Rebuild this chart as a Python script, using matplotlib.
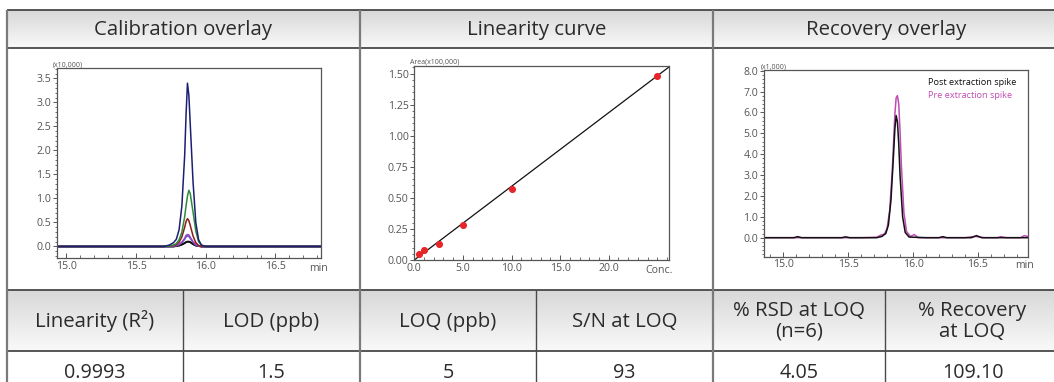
import numpy as np
import matplotlib
matplotlib.use("Agg")
import matplotlib.pyplot as plt
from matplotlib.colors import LinearSegmentedColormap
from matplotlib.ticker import MultipleLocator, FixedLocator, FormatStrFormatter

# ---------------- data ----------------
header_top = ["Calibration overlay", "Linearity curve", "Recovery overlay"]
header_sub = ["Linearity (R²)", "LOD (ppb)", "LOQ (ppb)", "S/N at LOQ",
              "% RSD at LOQ\n(n=6)", "% Recovery\nat LOQ"]
values_sub = ["0.9993", "1.5", "5", "93", "4.05", "109.10"]

# Calibration overlay traces (x10,000)
cal_time = [14.93, 15.70, 15.74, 15.77, 15.79, 15.81, 15.83, 15.85, 15.86, 15.87,
            15.88, 15.89, 15.91, 15.93, 15.95, 15.97, 16.00, 16.83]
cal_navy = [0, 0, 0.03, 0.08, 0.15, 0.35, 0.85, 1.90, 2.75, 3.40,
            3.15, 2.55, 1.35, 0.50, 0.14, 0.03, 0, 0]
cal_green = [0, 0, 0.01, 0.03, 0.06, 0.14, 0.30, 0.62, 0.85, 1.05,
             1.17, 1.10, 0.72, 0.32, 0.10, 0.03, 0, 0]
cal_red = [0, 0, 0.01, 0.02, 0.04, 0.09, 0.20, 0.40, 0.52, 0.58,
           0.54, 0.44, 0.22, 0.08, 0.02, 0.0, 0, 0]
cal_purple = [0, 0, 0, 0.01, 0.02, 0.04, 0.09, 0.17, 0.23, 0.25,
              0.24, 0.19, 0.10, 0.04, 0.01, 0, 0, 0]
cal_blue = [0, 0, 0, 0.01, 0.02, 0.04, 0.08, 0.15, 0.20, 0.22,
            0.21, 0.17, 0.09, 0.03, 0.01, 0, 0, 0]
cal_black = [0, 0, 0, 0, 0.01, 0.02, 0.04, 0.07, 0.09, 0.10,
             0.10, 0.09, 0.05, 0.02, 0.01, 0, 0, 0]
cal_series = [(cal_black, "#111111"), (cal_blue, "#3b5bd6"), (cal_purple, "#a040c0"),
              (cal_red, "#8e1b1b"), (cal_green, "#2e8b3c"), (cal_navy, "#1c1f72")]

# Linearity curve (Area x100,000 vs Conc.)
lin_conc = [0.5, 1.0, 2.5, 5.0, 10.0, 25.0]
lin_area = [0.046, 0.080, 0.131, 0.284, 0.569, 1.481]
fit_conc = [0.0, 26.23]
fit_area = [0.0, 1.556]

# Recovery overlay (x1,000)
post_t = [14.85, 15.08, 15.11, 15.14, 15.45, 15.48, 15.51, 15.72, 15.76, 15.79,
          15.81, 15.83, 15.85, 15.86, 15.87, 15.88, 15.89, 15.90, 15.92, 15.94,
          15.97, 16.10, 16.20, 16.23, 16.26, 16.45, 16.49, 16.53, 16.89]
post_y = [0, 0, 0.05, 0, 0, 0.04, 0, 0, 0.06, 0.20,
          0.60, 1.80, 4.00, 5.20, 5.85, 5.55, 4.50, 3.00, 1.00, 0.25,
          0.03, 0, 0, 0.05, 0, 0, 0.10, 0, 0]
pre_t = [14.85, 15.60, 15.72, 15.75, 15.78, 15.80, 15.82, 15.84, 15.86, 15.87,
         15.88, 15.89, 15.90, 15.91, 15.93, 15.95, 15.98, 16.01, 16.04, 16.40,
         16.48, 16.55, 16.65, 16.68, 16.72, 16.83, 16.86, 16.89]
pre_y = [0, 0, 0.02, 0.12, 0.18, 0.45, 1.30, 3.20, 5.90, 6.70,
         6.80, 6.40, 5.10, 3.50, 1.20, 0.30, 0.06, 0.15, 0, 0,
         0.06, 0, 0, 0.05, 0, 0, 0.10, 0.05]

# ---------------- layout ----------------
W, H = 1054, 382
fig = plt.figure(figsize=(W / 100, H / 100), dpi=100)
plt.rcParams['font.family'] = ['Open Sans', 'DejaVu Sans']

bg = fig.add_axes([0, 0, 1, 1], zorder=0)
bg.set_xlim(0, W)
bg.set_ylim(H, 0)
bg.axis('off')

grad = LinearSegmentedColormap.from_list("g", ["#d8d8d8", "#f9f9f9"])
g = np.linspace(0, 1, 64).reshape(-1, 1)
bg.imshow(g, cmap=grad, extent=[7, W, 48, 10], aspect='auto', origin='upper', zorder=0)
bg.imshow(g, cmap=grad, extent=[7, W, 351, 290], aspect='auto', origin='upper', zorder=0)

hcol = "#3a3a3a"
for yy in [10, 48, 290, 351]:
    bg.plot([7, W], [yy, yy], color=hcol, lw=1.2, zorder=2, solid_capstyle='butt')
for xx in [7, 360, 713]:
    bg.plot([xx, xx], [10, H], color="#7a7a7a", lw=1.6, zorder=3, solid_capstyle='butt')
for xx in [183, 536, 885]:
    bg.plot([xx, xx], [290, H], color="#4a4a4a", lw=1.0, zorder=3, solid_capstyle='butt')

tcol = "#2b2b2b"
FS = 14.7
top_centers = [183.5, 536.5, 886.5]
for txt, cx in zip(header_top, top_centers):
    bg.text(cx, 30, txt, ha='center', va='center', fontsize=FS, color=tcol)
sub_centers = [95, 271.5, 448, 624.5, 799, 972.5]
for txt, cx in zip(header_sub, sub_centers):
    bg.text(cx, 321.5, txt, ha='center', va='center', fontsize=FS, color=tcol,
            linespacing=1.05)
for txt, cx in zip(values_sub, sub_centers):
    bg.text(cx, 378.5, txt, ha='center', va='baseline', fontsize=14.2, color=tcol)


def make_ax(l, r, t, b):
    return fig.add_axes([l / W, 1 - b / H, (r - l) / W, (b - t) / H], zorder=5)


lab = "#555555"
spc = "#555555"
TS = 7.6


def style(ax):
    for s in ax.spines.values():
        s.set_color(spc)
        s.set_linewidth(0.9)
    ax.tick_params(axis='y', which='both', direction='out', left=True, right=False,
                   colors=spc, labelcolor=lab, labelsize=TS, pad=1.2)
    ax.tick_params(axis='y', which='major', length=3, width=0.7)
    ax.tick_params(axis='y', which='minor', length=1.8, width=0.6)
    ax.tick_params(axis='x', which='both', direction='in', bottom=True, top=False,
                   colors=spc, labelcolor=lab, labelsize=TS, pad=2)
    ax.tick_params(axis='x', which='major', length=3.5, width=0.7)
    ax.tick_params(axis='x', which='minor', length=2, width=0.6)


# Panel 1: calibration overlay
ax1 = make_ax(56.7, 321, 68.3, 258)
for ys, c in cal_series:
    ax1.plot(cal_time, ys, color=c, lw=1.1)
ax1.plot(cal_time, cal_black, color="#111111", lw=1.4, zorder=1)
ax1.set_xlim(14.93, 16.83)
ax1.set_ylim(-0.24, 3.71)
ax1.yaxis.set_major_locator(MultipleLocator(0.5))
ax1.yaxis.set_minor_locator(MultipleLocator(0.1))
ax1.xaxis.set_major_locator(FixedLocator([15.0, 15.5, 16.0, 16.5]))
ax1.xaxis.set_minor_locator(MultipleLocator(0.1))
ax1.yaxis.set_major_formatter(FormatStrFormatter('%.1f'))
ax1.xaxis.set_major_formatter(FormatStrFormatter('%.1f'))
style(ax1)
bg.text(60, 77, "MRM : 291.10>137.00", ha='left', va='center', fontsize=6.6,
        color="#444444", zorder=10)
bg.text(53, 64.5, "(x10,000)", ha='left', va='center', fontsize=5, color="#555555")
bg.text(318, 268.5, "min", ha='center', va='center', fontsize=TS, color=lab)

# Panel 2: linearity curve
ax2 = make_ax(414.3, 669.3, 66, 260)
ax2.plot(fit_conc, fit_area, color="#111111", lw=0.9, zorder=2)
ax2.scatter(lin_conc, lin_area, s=26, color="#e8262a", zorder=3, linewidths=0,
            clip_on=False)
ax2.set_xlim(0, 26.23)
ax2.set_ylim(0, 1.562)
ax2.yaxis.set_major_locator(MultipleLocator(0.25))
ax2.yaxis.set_minor_locator(MultipleLocator(0.05))
ax2.xaxis.set_major_locator(FixedLocator([0, 5, 10, 15, 20]))
ax2.xaxis.set_minor_locator(MultipleLocator(1.0))
ax2.yaxis.set_major_formatter(FormatStrFormatter('%.2f'))
ax2.xaxis.set_major_formatter(FormatStrFormatter('%.1f'))
style(ax2)
bg.text(410, 62, "Area(x100,000)", ha='left', va='center', fontsize=5, color="#555555")
bg.text(658.7, 270.5, "Conc.", ha='center', va='center', fontsize=TS, color=lab)

# Panel 3: recovery overlay
ax3 = make_ax(764, 1028.3, 70, 256.7)
ax3.plot(pre_t, pre_y, color="#c04cb4", lw=1.1)
ax3.plot(post_t, post_y, color="#111111", lw=1.1)
ax3.set_xlim(14.85, 16.89)
ax3.set_ylim(-0.91, 8.03)
ax3.yaxis.set_major_locator(FixedLocator([0, 1, 2, 3, 4, 5, 6, 7, 8]))
ax3.yaxis.set_minor_locator(MultipleLocator(0.2))
ax3.xaxis.set_major_locator(FixedLocator([15.0, 15.5, 16.0, 16.5]))
ax3.xaxis.set_minor_locator(MultipleLocator(0.1))
ax3.yaxis.set_major_formatter(FormatStrFormatter('%.1f'))
ax3.xaxis.set_major_formatter(FormatStrFormatter('%.1f'))
style(ax3)
bg.text(767, 79, "MRM : 291.10>137.00", ha='left', va='center', fontsize=6.6,
        color="#444444", zorder=10)
ax3.text(928, 82.7, "Post extraction spike", transform=bg.transData, ha='left',
         va='center', fontsize=6.6, color="#111111")
ax3.text(928, 95, "Pre extraction spike", transform=bg.transData, ha='left',
         va='center', fontsize=6.6, color="#c04cb4")
bg.text(761, 67.5, "(x1,000)", ha='left', va='center', fontsize=5, color="#555555")
bg.text(1024, 266, "min", ha='center', va='center', fontsize=TS, color=lab)

fig.savefig("out.png", dpi=100)
